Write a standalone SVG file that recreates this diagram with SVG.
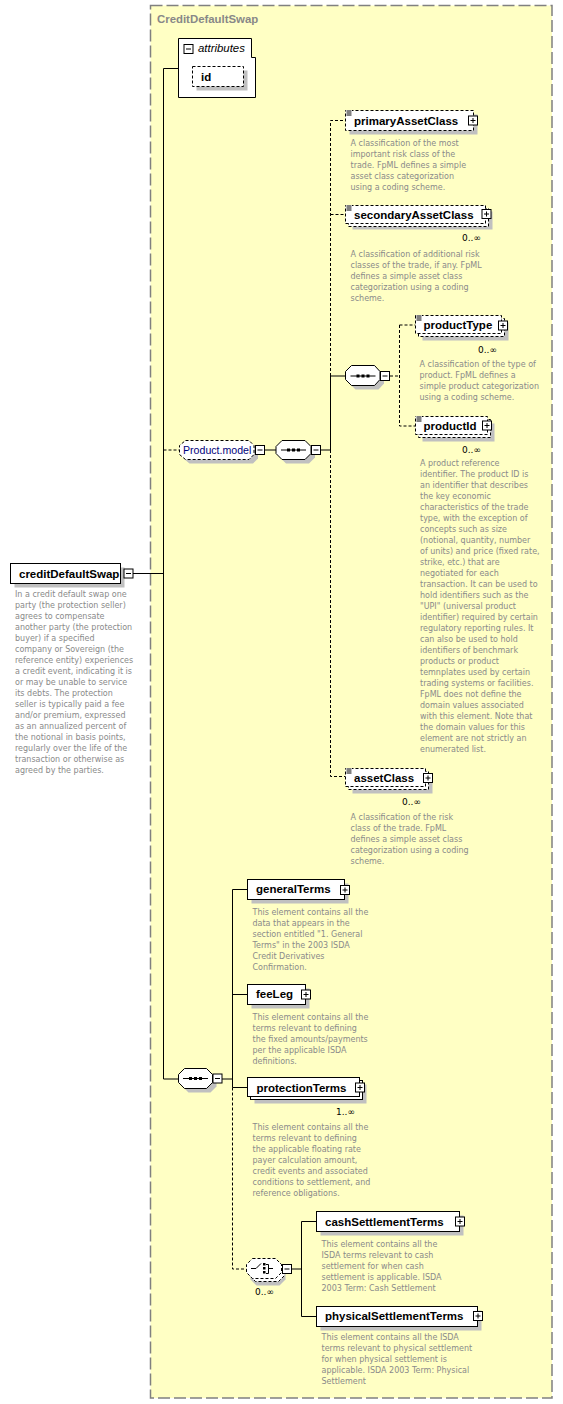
<svg xmlns="http://www.w3.org/2000/svg" width="563" height="1404" viewBox="0 0 563 1404">
<style>
.bg{fill:#fff;}
.box{fill:#fff;stroke:#000;stroke-width:1;}
.opt{fill:#fff;stroke:#000;stroke-width:1;stroke-dasharray:3 2;}
.sh{fill:#c0c0c0;stroke:none;}
.ln{fill:none;stroke:#000;stroke-width:1;}
.dl{fill:none;stroke:#000;stroke-width:1;stroke-dasharray:3 2;}
.lbl{font-family:"Liberation Sans",Arial,sans-serif;font-weight:bold;font-size:11.5px;fill:#000;}
.desc{font-family:"DejaVu Sans",Verdana,sans-serif;font-size:8px;fill:#8a8a8a;}
.mult{font-family:"DejaVu Sans",Verdana,sans-serif;font-size:9px;fill:#000;}
.dot{fill:#000;}
</style>
<defs>
<g id="plus"><rect class="box" x="0" y="0" width="9" height="9"/><path class="ln" d="M2,4.5H7M4.5,2V7"/></g>
<g id="minus"><rect class="box" x="0" y="0" width="9" height="9"/><path class="ln" d="M2,4.5H7"/></g>
<g id="icon"><rect x="0" y="0" width="6" height="6" fill="#fff"/><path class="ln" d="M0.5,1H5.5M0.5,3H5.5M0.5,5H5.5"/></g>
<g id="seqicon"><path class="ln" d="M0,0H25"/><rect class="dot" x="6" y="-1.5" width="3" height="3"/><rect class="dot" x="11" y="-1.5" width="3" height="3"/><rect class="dot" x="16" y="-1.5" width="3" height="3"/></g>
</defs>

<g id="container">
<rect x="150.5" y="5.5" width="401.5" height="1392.5" fill="#ffffc4" stroke="#808080" stroke-width="1.5" stroke-dasharray="12 4"/>
<text x="157" y="23" font-family="Liberation Sans,Arial,sans-serif" font-weight="bold" font-size="11.4px" fill="#888">CreditDefaultSwap</text>
</g>

<g id="connectors">
<path class="ln" d="M163.5,68.5V1079"/>
<path class="ln" d="M163.5,68.5H178.5"/>
<path class="ln" d="M133,573.5H163.5"/>
<path class="dl" d="M163.5,450H179.5"/>
<path class="ln" d="M264.5,450H276"/>
<path class="ln" d="M320.5,450H330.5"/>
<path class="dl" d="M330.5,376V120.5H345.5"/>
<path class="dl" d="M330.5,214.5H345.5"/>
<path class="ln" d="M330.5,376V450"/>
<path class="ln" d="M330.5,376H345.5"/>
<path class="dl" d="M330.5,450V776.5H345.5"/>
<path class="dl" d="M390,376H399.5"/>
<path class="dl" d="M399.5,325V426H415.5"/>
<path class="dl" d="M399.5,325H415.5"/>
<path class="ln" d="M163.5,1079H178.5"/>
<path class="ln" d="M222,1079H232.5"/>
<path class="ln" d="M232.5,889.5V1087.5"/>
<path class="ln" d="M232.5,889.5H247.5"/>
<path class="ln" d="M232.5,994.5H247.5"/>
<path class="ln" d="M232.5,1087.5H247.5"/>
<path class="dl" d="M232.5,1087.5V1269H246.5"/>
<path class="ln" d="M292,1269H301.5"/>
<path class="ln" d="M301.5,1221.5V1316.5"/>
<path class="ln" d="M301.5,1221.5H316.5"/>
<path class="ln" d="M301.5,1316.5H316.5"/>
</g>

<g id="attributes">
<path class="box" d="M178.5,38.5H251.5V57.5H255.5V97.5H178.5Z"/>
<use href="#minus" x="184" y="44.5"/>
<text x="198" y="52" font-family="Liberation Sans,Arial,sans-serif" font-style="italic" font-size="11.4px" fill="#000">attributes</text>
</g>

<g id="id">
<rect class="sh" x="196.5" y="70.5" width="51" height="20"/>
<rect class="opt" x="192.5" y="66.5" width="51" height="20"/>
<text class="lbl" x="201" y="81">id</text>
</g>

<g id="creditDefaultSwap">
<rect class="sh" x="14.5" y="567.5" width="110" height="20"/>
<rect class="box" x="10.5" y="563.5" width="110" height="20"/>
<text class="lbl" x="19" y="577.5">creditDefaultSwap</text>
<use href="#minus" x="124" y="569"/>
<text class="desc"><tspan x="15" y="597">In a credit default swap one</tspan><tspan x="15" dy="11">party (the protection seller)</tspan><tspan x="15" dy="11">agrees to compensate</tspan><tspan x="15" dy="11">another party (the protection</tspan><tspan x="15" dy="11">buyer) if a specified</tspan><tspan x="15" dy="11">company or Sovereign (the</tspan><tspan x="15" dy="11">reference entity) experiences</tspan><tspan x="15" dy="11">a credit event, indicating it is</tspan><tspan x="15" dy="11">or may be unable to service</tspan><tspan x="15" dy="11">its debts. The protection</tspan><tspan x="15" dy="11">seller is typically paid a fee</tspan><tspan x="15" dy="11">and/or premium, expressed</tspan><tspan x="15" dy="11">as an annualized percent of</tspan><tspan x="15" dy="11">the notional in basis points,</tspan><tspan x="15" dy="11">regularly over the life of the</tspan><tspan x="15" dy="11">transaction or otherwise as</tspan><tspan x="15" dy="11">agreed by the parties.</tspan></text>
</g>

<g id="productModel">
<path class="sh" d="M189.5,444.5H253L258,449.5V458.5L253,463.5H189.5L183.5,458.5V449.5Z"/>
<path class="opt" d="M185.5,440.5H249L254,445.5V454.5L249,459.5H185.5L179.5,454.5V445.5Z"/>
<text x="183" y="454" font-family="Liberation Sans,Arial,sans-serif" font-size="10.6px" fill="#00007a">Product.model</text>
<use href="#minus" x="255.5" y="445.5"/>
</g>

<g id="sequence1">
<path class="sh" d="M286,444.5H309L315,450.5V457.5L309,463.5H286L280,457.5V450.5Z"/>
<path class="box" d="M282,440.5H305L311,446.5V453.5L305,459.5H282L276,453.5V446.5Z"/>
<use href="#seqicon" x="281" y="450"/>
<use href="#minus" x="311.5" y="445.5"/>
</g>

<g id="primaryAssetClass">
<rect class="sh" x="349.5" y="114.5" width="128" height="20"/>
<rect class="opt" x="345.5" y="110.5" width="128" height="20"/>
<use href="#icon" x="346" y="110"/>
<text class="lbl" x="354" y="124.5">primaryAssetClass</text>
<use href="#plus" x="468.5" y="116"/>
<text class="desc"><tspan x="350.5" y="146">A classification of the most</tspan><tspan x="350.5" dy="11">important risk class of the</tspan><tspan x="350.5" dy="11">trade. FpML defines a simple</tspan><tspan x="350.5" dy="11">asset class categorization</tspan><tspan x="350.5" dy="11">using a coding scheme.</tspan></text>
</g>

<g id="secondaryAssetClass">
<rect class="sh" x="352.5" y="211.5" width="140" height="18"/>
<rect class="opt" x="348.5" y="208.5" width="140" height="18"/>
<rect class="opt" x="345.5" y="205.5" width="140" height="18"/>
<use href="#icon" x="346" y="205"/>
<text class="lbl" x="354" y="218.5">secondaryAssetClass</text>
<use href="#plus" x="482" y="209.5"/>
<text class="mult" x="462" y="241">0..∞</text>
<text class="desc"><tspan x="350.5" y="257">A classification of additional risk</tspan><tspan x="350.5" dy="11">classes of the trade, if any. FpML</tspan><tspan x="350.5" dy="11">defines a simple asset class</tspan><tspan x="350.5" dy="11">categorization using a coding</tspan><tspan x="350.5" dy="11">scheme.</tspan></text>
</g>

<g id="sequence2">
<path class="sh" d="M355.5,369.5H378.5L384,375.5V383.5L378.5,389.5H355.5L349.5,383.5V375.5Z"/>
<path class="box" d="M351.5,365.5H374.5L380,371.5V379.5L374.5,385.5H351.5L345.5,379.5V371.5Z"/>
<use href="#seqicon" x="350.5" y="376"/>
<use href="#minus" x="380.5" y="371.5"/>
</g>

<g id="productType">
<rect class="sh" x="422.5" y="322.5" width="86" height="18"/>
<rect class="opt" x="418.5" y="318.5" width="86" height="18"/>
<rect class="opt" x="415.5" y="315.5" width="86" height="18"/>
<use href="#icon" x="416" y="315"/>
<text class="lbl" x="423.5" y="329">productType</text>
<use href="#plus" x="498.5" y="321"/>
<text class="mult" x="478" y="353">0..∞</text>
<text class="desc"><tspan x="419.5" y="367">A classification of the type of</tspan><tspan x="419.5" dy="11">product. FpML defines a</tspan><tspan x="419.5" dy="11">simple product categorization</tspan><tspan x="419.5" dy="11">using a coding scheme.</tspan></text>
</g>

<g id="productId">
<rect class="sh" x="422.5" y="423.5" width="72" height="18"/>
<rect class="opt" x="418.5" y="419.5" width="72" height="18"/>
<rect class="opt" x="415.5" y="416.5" width="72" height="18"/>
<use href="#icon" x="416" y="416"/>
<text class="lbl" x="423.5" y="430">productId</text>
<use href="#plus" x="482.5" y="421"/>
<text class="mult" x="462" y="453">0..∞</text>
<text class="desc"><tspan x="420" y="466">A product reference</tspan><tspan x="420" dy="11">identifier. The product ID is</tspan><tspan x="420" dy="11">an identifier that describes</tspan><tspan x="420" dy="11">the key economic</tspan><tspan x="420" dy="11">characteristics of the trade</tspan><tspan x="420" dy="11">type, with the exception of</tspan><tspan x="420" dy="11">concepts such as size</tspan><tspan x="420" dy="11">(notional, quantity, number</tspan><tspan x="420" dy="11">of units) and price (fixed rate,</tspan><tspan x="420" dy="11">strike, etc.) that are</tspan><tspan x="420" dy="11">negotiated for each</tspan><tspan x="420" dy="11">transaction. It can be used to</tspan><tspan x="420" dy="11">hold identifiers such as the</tspan><tspan x="420" dy="11">"UPI" (universal product</tspan><tspan x="420" dy="11">identifier) required by certain</tspan><tspan x="420" dy="11">regulatory reporting rules. It</tspan><tspan x="420" dy="11">can also be used to hold</tspan><tspan x="420" dy="11">identifiers of benchmark</tspan><tspan x="420" dy="11">products or product</tspan><tspan x="420" dy="11">temnplates used by certain</tspan><tspan x="420" dy="11">trading systems or facilities.</tspan><tspan x="420" dy="11">FpML does not define the</tspan><tspan x="420" dy="11">domain values associated</tspan><tspan x="420" dy="11">with this element. Note that</tspan><tspan x="420" dy="11">the domain values for this</tspan><tspan x="420" dy="11">element are not strictly an</tspan><tspan x="420" dy="11">enumerated list.</tspan></text>
</g>

<g id="assetClass">
<rect class="sh" x="352.5" y="775.5" width="80" height="18"/>
<rect class="opt" x="348.5" y="771.5" width="80" height="18"/>
<rect class="opt" x="345.5" y="768.5" width="80" height="18"/>
<use href="#icon" x="346" y="768"/>
<text class="lbl" x="354" y="782">assetClass</text>
<use href="#plus" x="423.5" y="773.5"/>
<text class="mult" x="402" y="804.5">0..∞</text>
<text class="desc"><tspan x="350.5" y="820">A classification of the risk</tspan><tspan x="350.5" dy="11">class of the trade. FpML</tspan><tspan x="350.5" dy="11">defines a simple asset class</tspan><tspan x="350.5" dy="11">categorization using a coding</tspan><tspan x="350.5" dy="11">scheme.</tspan></text>
</g>

<g id="sequence3">
<path class="sh" d="M188.5,1072.5H210.5L216.5,1078.5V1086.5L210.5,1092.5H188.5L182.5,1086.5V1078.5Z"/>
<path class="box" d="M184.5,1068.5H206.5L212.5,1074.5V1082.5L206.5,1088.5H184.5L178.5,1082.5V1074.5Z"/>
<use href="#seqicon" x="183" y="1078.5"/>
<use href="#minus" x="213" y="1074"/>
</g>

<g id="generalTerms">
<rect class="sh" x="251.5" y="883.5" width="97" height="20"/>
<rect class="box" x="247.5" y="879.5" width="97" height="20"/>
<text class="lbl" x="256" y="893">generalTerms</text>
<use href="#plus" x="340.5" y="885.5"/>
<text class="desc"><tspan x="252.5" y="915">This element contains all the</tspan><tspan x="252.5" dy="11">data that appears in the</tspan><tspan x="252.5" dy="11">section entitled "1. General</tspan><tspan x="252.5" dy="11">Terms" in the 2003 ISDA</tspan><tspan x="252.5" dy="11">Credit Derivatives</tspan><tspan x="252.5" dy="11">Confirmation.</tspan></text>
</g>

<g id="feeLeg">
<rect class="sh" x="251.5" y="988.5" width="58" height="20"/>
<rect class="box" x="247.5" y="984.5" width="58" height="20"/>
<text class="lbl" x="256" y="998">feeLeg</text>
<use href="#plus" x="301.5" y="990"/>
<text class="desc"><tspan x="252.5" y="1019.5">This element contains all the</tspan><tspan x="252.5" dy="11">terms relevant to defining</tspan><tspan x="252.5" dy="11">the fixed amounts/payments</tspan><tspan x="252.5" dy="11">per the applicable ISDA</tspan><tspan x="252.5" dy="11">definitions.</tspan></text>
</g>

<g id="protectionTerms">
<rect class="sh" x="254.5" y="1084.5" width="112" height="19"/>
<rect class="box" x="250.5" y="1080.5" width="112" height="19"/>
<rect class="box" x="247.5" y="1077.5" width="112" height="19"/>
<text class="lbl" x="256.5" y="1091.5">protectionTerms</text>
<use href="#plus" x="355.5" y="1083"/>
<text class="mult" x="336" y="1115">1..∞</text>
<text class="desc"><tspan x="252.5" y="1130">This element contains all the</tspan><tspan x="252.5" dy="11">terms relevant to defining</tspan><tspan x="252.5" dy="11">the applicable floating rate</tspan><tspan x="252.5" dy="11">payer calculation amount,</tspan><tspan x="252.5" dy="11">credit events and associated</tspan><tspan x="252.5" dy="11">conditions to settlement, and</tspan><tspan x="252.5" dy="11">reference obligations.</tspan></text>
</g>

<g id="choice">
<path class="sh" d="M256.5,1265.5H279.5L285.5,1271.5V1279.5L279.5,1285.5H256.5L250.5,1279.5V1271.5Z"/>
<path class="opt" d="M255.5,1261.5H278.5L284.5,1267.5V1275.5L278.5,1281.5H255.5L249.5,1275.5V1267.5Z"/>
<path class="opt" d="M252.5,1258.5H275.5L281.5,1264.5V1272.5L275.5,1278.5H252.5L246.5,1272.5V1264.5Z"/>
<path class="ln" d="M251,1268.5H256L261,1263.5"/>
<rect class="dot" x="263" y="1263" width="2.5" height="2.5"/>
<rect class="dot" x="263" y="1267" width="2.5" height="2.5"/>
<rect class="dot" x="263" y="1271" width="2.5" height="2.5"/>
<path class="ln" d="M266,1264.5H268.5V1273.5H266M268.5,1268.5H273"/>
<use href="#minus" x="282.5" y="1264.5"/>
<text class="mult" x="255" y="1294.5">0..∞</text>
</g>

<g id="cashSettlementTerms">
<rect class="sh" x="320.5" y="1215.5" width="143" height="20"/>
<rect class="box" x="316.5" y="1211.5" width="143" height="20"/>
<text class="lbl" x="325" y="1225.5">cashSettlementTerms</text>
<use href="#plus" x="455.5" y="1217"/>
<text class="desc"><tspan x="321.5" y="1247">This element contains all the</tspan><tspan x="321.5" dy="11">ISDA terms relevant to cash</tspan><tspan x="321.5" dy="11">settlement for when cash</tspan><tspan x="321.5" dy="11">settlement is applicable. ISDA</tspan><tspan x="321.5" dy="11">2003 Term: Cash Settlement</tspan></text>
</g>

<g id="physicalSettlementTerms">
<rect class="sh" x="320.5" y="1310.5" width="161" height="20"/>
<rect class="box" x="316.5" y="1306.5" width="161" height="20"/>
<text class="lbl" x="325" y="1320">physicalSettlementTerms</text>
<use href="#plus" x="473.5" y="1311.5"/>
<text class="desc"><tspan x="321.5" y="1340">This element contains all the ISDA</tspan><tspan x="321.5" dy="11">terms relevant to physical settlement</tspan><tspan x="321.5" dy="11">for when physical settlement is</tspan><tspan x="321.5" dy="11">applicable. ISDA 2003 Term: Physical</tspan><tspan x="321.5" dy="11">Settlement</tspan></text>
</g>
</svg>
